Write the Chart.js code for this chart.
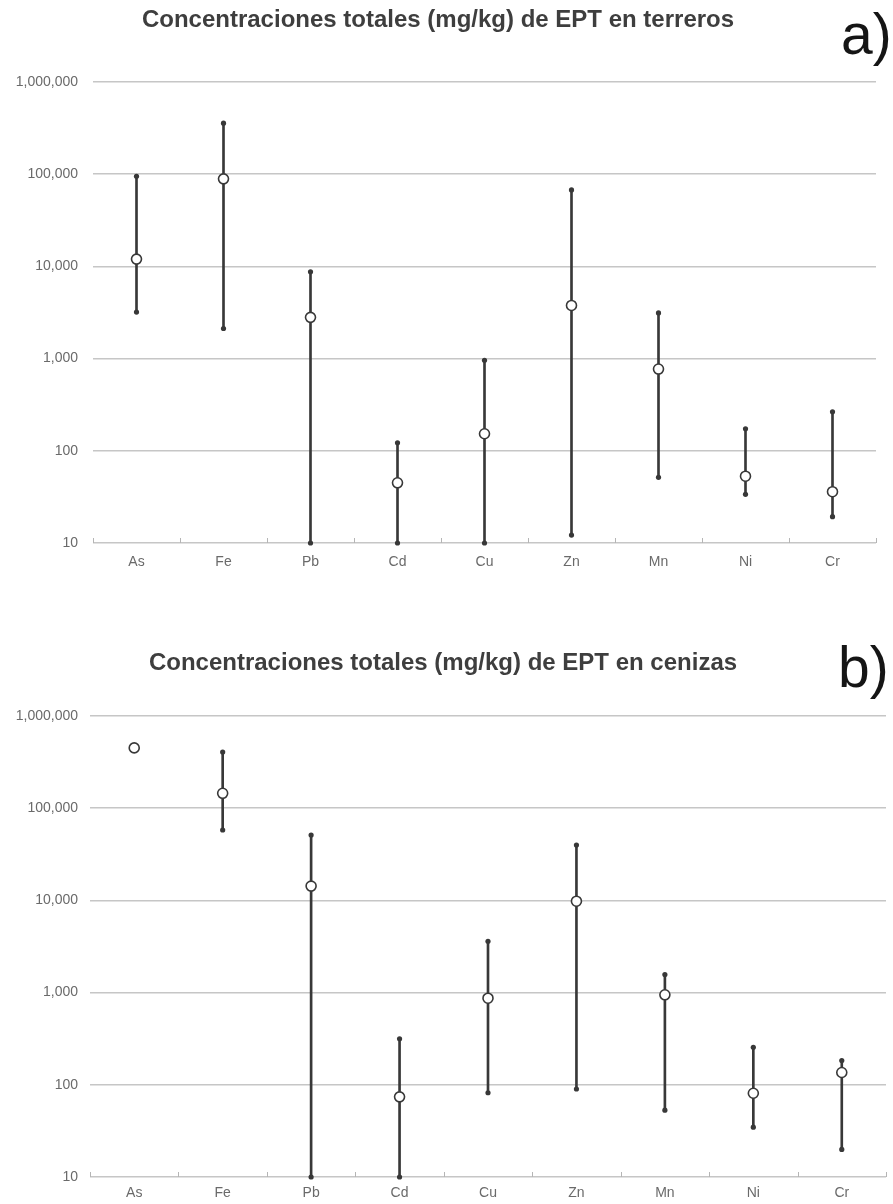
<!DOCTYPE html>
<html>
<head>
<meta charset="utf-8">
<script src="https://cdn.jsdelivr.net/npm/chart.js@4.4.1/dist/chart.umd.min.js"></script>
<style>
  html, body { margin: 0; padding: 0; background: #ffffff; }
  #wrap { position: relative; width: 893px; height: 1204px; }
  #terreros { position: absolute; left: 0; top: 0; }
  #cenizas { position: absolute; left: 0; top: 600px; }
</style>
</head>
<body>
<div id="wrap">
  <canvas id="terreros" width="893" height="600"></canvas>
  <canvas id="cenizas" width="893" height="604"></canvas>
</div>
<script>
// Elementos potencialmente tóxicos (EPT), concentraciones totales en mg/kg
const elementos = ['As', 'Fe', 'Pb', 'Cd', 'Cu', 'Zn', 'Mn', 'Ni', 'Cr'];

// Terreros: media, mínimo y máximo
const terrerosMedia = [12000, 89000, 2800, 45, 153, 3770, 770, 53, 36];
const terrerosMin   = [3200, 2120, 10, 10, 10, 12.2, 51.6, 33.7, 19.3];
const terrerosMax   = [95000, 358000, 8730, 122, 960, 67500, 3130, 173, 265];

// Cenizas: media, mínimo y máximo (As con un solo valor)
const cenizasMedia = [451000, 145000, 14300, 74, 869, 9800, 946, 81, 136];
const cenizasMin   = [null, 58000, 10, 10, 82, 90, 53, 34.7, 19.9];
const cenizasMax   = [null, 407000, 51100, 316, 3600, 39800, 1570, 255, 183];

// Marcas del eje logarítmico
const yTicks = [10, 100, 1000, 10000, 100000, 1000000];

const FONT = '"Liberation Sans", Arial, Helvetica, sans-serif';
const INK = '#383838';

// Pequeñas marcas hacia arriba entre categorías, sobre la línea base
const categoryTicks = {
  id: 'categoryTicks',
  beforeDatasetsDraw(chart, args, opts) {
    const xs = chart.scales.x, area = chart.chartArea, ctx = chart.ctx;
    const n = xs.ticks.length;
    ctx.save();
    ctx.strokeStyle = opts.color;
    ctx.lineWidth = 1;
    for (let i = 0; i <= n; i++) {
      let px;
      if (i === 0) px = area.left;
      else if (i === n) px = area.right;
      else px = (xs.getPixelForTick(i - 1) + xs.getPixelForTick(i)) / 2;
      px = Math.round(px) + 0.5;
      ctx.beginPath();
      ctx.moveTo(px, area.bottom);
      ctx.lineTo(px, area.bottom - opts.length);
      ctx.stroke();
    }
    ctx.restore();
  }
};

// Rótulo del panel (a), b)) en la esquina superior derecha
const panelLabel = {
  id: 'panelLabel',
  afterDraw(chart, args, opts) {
    const ctx = chart.ctx;
    ctx.save();
    ctx.font = opts.size + 'px ' + FONT;
    ctx.fillStyle = opts.color;
    ctx.textAlign = 'left';
    ctx.textBaseline = 'alphabetic';
    ctx.fillText(opts.text, opts.x, opts.y);
    ctx.restore();
  }
};

function makeChart(id, p) {
  const rangos = elementos.map((_, i) =>
    p.min[i] == null ? null : [p.min[i], p.max[i]]);

  return new Chart(document.getElementById(id), {
    type: 'bar',
    data: {
      labels: elementos,
      datasets: [
        {
          label: 'Rango',
          data: rangos,
          backgroundColor: INK,
          borderWidth: 0,
          barThickness: 2,
          order: 3
        },
        {
          type: 'line',
          label: 'Mínimo',
          data: p.min,
          showLine: false,
          pointRadius: 2.6,
          pointStyle: 'circle',
          pointBackgroundColor: INK,
          pointBorderWidth: 0,
          clip: false,
          order: 2
        },
        {
          type: 'line',
          label: 'Máximo',
          data: p.max,
          showLine: false,
          pointRadius: 2.6,
          pointStyle: 'circle',
          pointBackgroundColor: INK,
          pointBorderWidth: 0,
          clip: false,
          order: 2
        },
        {
          type: 'line',
          label: 'Media',
          data: p.media,
          showLine: false,
          pointRadius: 5,
          pointStyle: 'circle',
          pointBackgroundColor: '#ffffff',
          pointBorderColor: INK,
          pointBorderWidth: 1.6,
          clip: false,
          order: 1
        }
      ]
    },
    options: {
      responsive: false,
      animation: false,
      layout: { padding: { left: 0, right: p.padRight, top: 0, bottom: 0 } },
      plugins: {
        legend: { display: false },
        tooltip: { enabled: false },
        title: {
          display: true,
          text: p.title,
          color: '#3e3e3e',
          font: { family: FONT, size: 24, weight: 'bold', lineHeight: 1.2 },
          padding: { top: p.titleTop, bottom: p.titleBottom }
        },
        categoryTicks: { color: '#b5b5b5', length: 5 },
        panelLabel: { text: p.panel, x: p.panelX, y: p.panelY, size: 57, color: '#151515' }
      },
      scales: {
        x: {
          type: 'category',
          offset: true,
          grid: { display: false, drawTicks: false },
          border: { display: false },
          ticks: {
            color: '#6a6a6a',
            font: { family: FONT, size: 14 },
            padding: p.xPad
          },
          afterFit(s) { s.height = p.xHeight; }
        },
        y: {
          type: 'logarithmic',
          min: yTicks[0],
          max: yTicks[yTicks.length - 1],
          grid: { color: '#c6c6c6', lineWidth: 1.5, drawTicks: false },
          border: { display: false },
          ticks: {
            color: '#6a6a6a',
            font: { family: FONT, size: 14 },
            padding: p.yPad,
            autoSkip: false,
            callback: (v) => Number(v).toLocaleString('en-US')
          },
          afterBuildTicks(s) { s.ticks = yTicks.map(v => ({ value: v })); },
          afterFit(s) { s.width = p.yWidth; }
        }
      }
    },
    plugins: [categoryTicks, panelLabel]
  });
}

makeChart('terreros', {
  title: 'Concentraciones totales (mg/kg) de EPT en terreros',
  panel: 'a)', panelX: 841, panelY: 54,
  media: terrerosMedia, min: terrerosMin, max: terrerosMax,
  padRight: 17, titleTop: 5.5, titleBottom: 47.7,
  yWidth: 93, yPad: 15, xHeight: 57, xPad: 11
});

makeChart('cenizas', {
  title: 'Concentraciones totales (mg/kg) de EPT en cenizas',
  panel: 'b)', panelX: 838, panelY: 87,
  media: cenizasMedia, min: cenizasMin, max: cenizasMax,
  padRight: 7, titleTop: 48.6, titleBottom: 38.6,
  yWidth: 90, yPad: 12, xHeight: 27, xPad: 8
});
</script>
</body>
</html>
